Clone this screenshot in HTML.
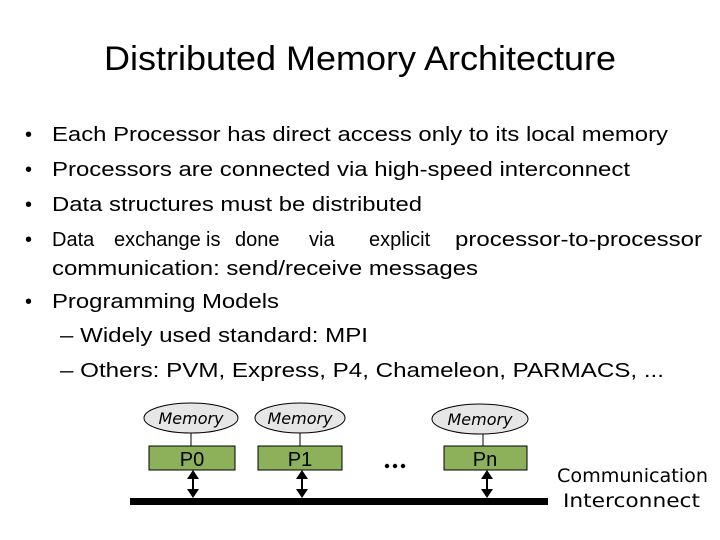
<!DOCTYPE html>
<html><head><meta charset="utf-8"><style>
html,body{margin:0;padding:0;background:#fff;}
svg{display:block;}
</style></head><body>
<svg width="720" height="540" viewBox="0 0 720 540" xmlns="http://www.w3.org/2000/svg" font-family="Liberation Sans, Arial, sans-serif">
<rect width="720" height="540" fill="#fff"/>
<text x="360" y="70" font-size="34" text-anchor="middle" textLength="512" lengthAdjust="spacingAndGlyphs">Distributed Memory Architecture</text>
<g font-size="20" fill="#000">
<text x="25" y="141">•</text><text x="52" y="141" textLength="616" lengthAdjust="spacingAndGlyphs">Each Processor has direct access only to its local memory</text>
<text x="25" y="176">•</text><text x="52" y="176" textLength="578" lengthAdjust="spacingAndGlyphs">Processors are connected via high-speed interconnect</text>
<text x="25" y="211">•</text><text x="52" y="211" textLength="370" lengthAdjust="spacingAndGlyphs">Data structures must be distributed</text>
<text x="25" y="246">•</text>
<text x="52" y="246">Data</text>
<text x="114" y="246">exchange</text>
<text x="206" y="246">is</text>
<text x="235" y="246">done</text>
<text x="309" y="246">via</text>
<text x="369" y="246">explicit</text>
<text x="455" y="246" textLength="247" lengthAdjust="spacingAndGlyphs">processor-to-processor</text>
<text x="52" y="275" textLength="426" lengthAdjust="spacingAndGlyphs">communication: send/receive messages</text>
<text x="25" y="308">•</text><text x="52" y="308" textLength="227" lengthAdjust="spacingAndGlyphs">Programming Models</text>
<text x="60" y="342" textLength="308" lengthAdjust="spacingAndGlyphs">– Widely used standard: MPI</text>
<text x="60" y="377" textLength="604" lengthAdjust="spacingAndGlyphs">– Others: PVM, Express, P4, Chameleon, PARMACS, ...</text>
</g>
<g stroke="#000" stroke-width="1">
<line x1="191" y1="432" x2="191" y2="446"/><line x1="300" y1="432" x2="300" y2="446"/><line x1="483" y1="433" x2="483" y2="446"/>
<ellipse cx="191" cy="418" rx="47" ry="15" fill="#e6e6e6"/>
<ellipse cx="300" cy="418" rx="45" ry="15" fill="#e6e6e6"/>
<ellipse cx="480" cy="419" rx="48" ry="15" fill="#e6e6e6"/>
<rect x="149" y="446" width="86" height="24" fill="#8db05a"/>
<rect x="258" y="446" width="84" height="24" fill="#8db05a"/>
<rect x="444" y="446" width="83" height="24" fill="#8db05a"/>
</g>
<g font-family="DejaVu Sans, sans-serif" font-size="16" text-anchor="middle" font-style="italic">
<text x="191" y="424">Memory</text><text x="300" y="424">Memory</text><text x="480" y="425">Memory</text>
</g>
<g font-size="20" text-anchor="middle">
<text x="192" y="466">P0</text><text x="300" y="466">P1</text><text x="485" y="466">Pn</text>
</g>
<g fill="#000"><circle cx="387" cy="466" r="2.2"/><circle cx="395" cy="466" r="2.2"/><circle cx="403" cy="466" r="2.2"/></g>
<rect x="130" y="498" width="418" height="7" fill="#000"/>
<g fill="#000" stroke="#000" stroke-width="2">
<line x1="193" y1="474" x2="193" y2="494"/><line x1="302" y1="474" x2="302" y2="494"/><line x1="487" y1="474" x2="487" y2="494"/>
</g>
<g fill="#000">
<polygon points="193,470 187,479 199,479"/><polygon points="193,498 187,489 199,489"/>
<polygon points="302,470 296,479 308,479"/><polygon points="302,498 296,489 308,489"/>
<polygon points="487,470 481,479 493,479"/><polygon points="487,498 481,489 493,489"/>
</g>
<g font-family="DejaVu Sans, sans-serif" font-size="19">
<text x="557" y="482" textLength="151" lengthAdjust="spacingAndGlyphs">Communication</text>
<text x="563" y="507" textLength="137" lengthAdjust="spacingAndGlyphs">Interconnect</text>
</g>
</svg>
</body></html>
